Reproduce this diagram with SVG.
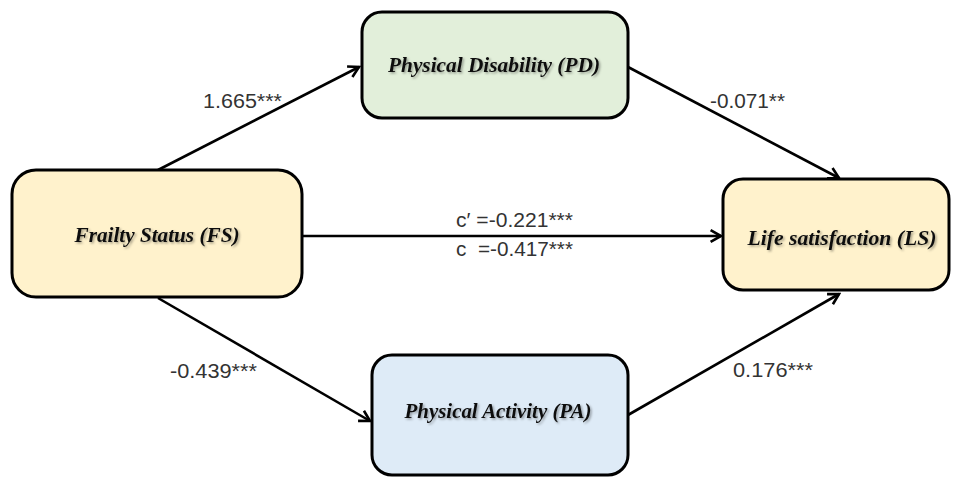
<svg xmlns="http://www.w3.org/2000/svg" width="953" height="478" viewBox="0 0 953 478">
<style>
.box{stroke:#000;stroke-width:3}
.yel{fill:#fff2cc}
.grn{fill:#e2efda}
.blu{fill:#deebf7}
.nt{font-family:"Liberation Serif","Times New Roman",serif;font-weight:bold;font-style:italic;font-size:21px;fill:#111;text-anchor:middle;filter:url(#sh)}
.lb{font-family:"Liberation Sans",Arial,sans-serif;font-size:19.5px;fill:#333;white-space:pre}
.ar{stroke:#000;stroke-width:2.6;fill:none;marker-end:url(#ah)}
</style>
<defs>
<marker id="ah" viewBox="0 0 12 12" refX="10" refY="6" markerWidth="6" markerHeight="6" markerUnits="strokeWidth" orient="auto">
<path d="M2,1.5 L10,6 L2,10.5" fill="none" stroke="#000" stroke-width="2"/>
</marker>
<filter id="sh" x="-10%" y="-30%" width="120%" height="160%">
<feDropShadow dx="1.5" dy="1.5" stdDeviation="0.8" flood-color="#000" flood-opacity="0.35"/>
</filter>
</defs>
<rect width="953" height="478" fill="#fff"/>
<g id="connectors">
<line class="ar" x1="158" y1="170" x2="359" y2="67"/>
<line class="ar" x1="628" y1="67" x2="839" y2="178"/>
<line class="ar" x1="302" y1="236" x2="721" y2="236"/>
<line class="ar" x1="158" y1="298" x2="370" y2="421"/>
<line class="ar" x1="628" y1="415" x2="839" y2="294"/>
<text class="lb" x="203" y="108" textLength="79" lengthAdjust="spacingAndGlyphs">1.665***</text>
<text class="lb" x="710" y="108" textLength="75" lengthAdjust="spacingAndGlyphs">-0.071**</text>
<text class="lb" x="456" y="227" textLength="117" lengthAdjust="spacingAndGlyphs">c′ =-0.221***</text>
<text class="lb" x="456" y="256" textLength="117" lengthAdjust="spacingAndGlyphs" xml:space="preserve">c  =-0.417***</text>
<text class="lb" x="170" y="378" textLength="87" lengthAdjust="spacingAndGlyphs">-0.439***</text>
<text class="lb" x="733" y="377" textLength="80" lengthAdjust="spacingAndGlyphs">0.176***</text>
</g>
<g id="FS">
<rect class="box yel" x="12" y="170" width="290" height="127" rx="24"/>
<text class="nt" x="157" y="242" textLength="165" lengthAdjust="spacingAndGlyphs">Frailty Status (FS)</text>
</g>
<g id="PD">
<rect class="box grn" x="362" y="12" width="266" height="106" rx="20"/>
<text class="nt" x="494" y="72" textLength="212" lengthAdjust="spacingAndGlyphs">Physical Disability (PD)</text>
</g>
<g id="LS">
<rect class="box yel" x="723" y="179" width="226" height="111" rx="20"/>
<text class="nt" x="842" y="245" textLength="189" lengthAdjust="spacingAndGlyphs">Life satisfaction (LS)</text>
</g>
<g id="PA">
<rect class="box blu" x="372" y="355" width="256" height="120" rx="20"/>
<text class="nt" x="498" y="418" textLength="187" lengthAdjust="spacingAndGlyphs">Physical Activity (PA)</text>
</g>
</svg>
